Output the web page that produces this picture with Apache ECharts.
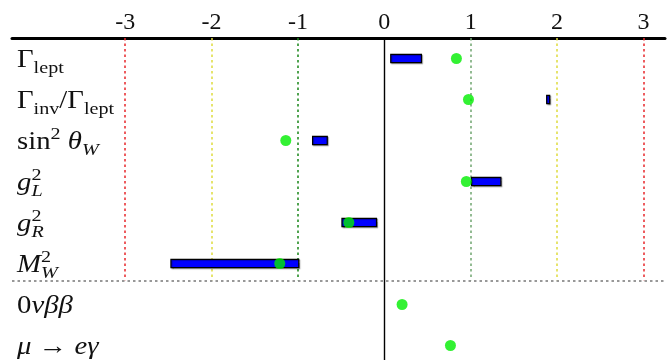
<!DOCTYPE html>
<html>
<head>
<meta charset="utf-8">
<script src="https://cdn.jsdelivr.net/npm/echarts@6/dist/echarts.min.js"></script>
<style>
  html, body { margin: 0; padding: 0; background: #fff; }
  #chart { width: 670px; height: 360px; }
</style>
</head>
<body>
<div id="chart"></div>
<script>
// Row labels in a small TeX-like notation: _{..} subscript, ^{..} superscript
const categories = ['Γ_{lept}', 'Γ_{inv}/Γ_{lept}', 'sin^{2} θ_{W}', 'g_{L}^{2}', 'g_{R}^{2}', 'M_{W}^{2}', '0νββ', 'μ → eγ'];
// Interval bars (low / high end), null where a row has no bar
const barLow  = [0.075, 1.88, -0.83, 1.01, -0.49, -2.47, null, null];
const barHigh = [0.43, 1.915, -0.66, 1.35, -0.09, -0.99, null, null];
// Point estimate for each row
const pointValues = [0.835, 0.975, -1.14, 0.95, -0.41, -1.21, 0.206, 0.766];
// Axis tick labels and vertical guide positions
const tickValues = [-3, -2, -1, 0, 1, 2, 3];
const guideValues = [-3, -2, -1, 1, 2, 3];

// ---- styling ----
const X_MIN = -4.31, X_MAX = 3.25;
const GRID_TOP = 38, ROW_PX = 41, CHART_H = 360;
const Y_MIN = -0.5, Y_MAX = Y_MIN + (CHART_H - GRID_TOP) / ROW_PX;
const SEPARATOR = 5.41;            // dotted rule between the two groups of rows
const FONT = '"Liberation Serif", "DejaVu Serif", serif';
const MAIN = 25, SCRIPT = 17.5, LABEL_STRETCH = 1.15;
const guideColors = { '-3': '#e8262a', '-2': '#dedb3c', '-1': '#168516', '1': '#6fa56f', '2': '#dedb3c', '3': '#e8262a' };

// ---- text measurement for the math-style labels ----
const mctx = document.createElement('canvas').getContext('2d');
function fontStr(size, italic) { return (italic ? 'italic ' : '') + size + 'px ' + FONT; }
function textWidth(t, size, italic) { mctx.font = fontStr(size, italic); return mctx.measureText(t).width; }
function midToBase(size) {
  mctx.font = fontStr(size, false);
  mctx.textBaseline = 'alphabetic';
  const a = mctx.measureText('H').actualBoundingBoxAscent;
  mctx.textBaseline = 'middle';
  const b = mctx.measureText('H').actualBoundingBoxAscent;
  mctx.textBaseline = 'alphabetic';
  return a - b;
}
function parseLabel(src) {
  const segs = []; let i = 0, buf = '';
  while (i < src.length) {
    const c = src[i];
    if ((c === '_' || c === '^') && src[i + 1] === '{') {
      if (buf) { segs.push({ role: 'main', text: buf }); buf = ''; }
      const end = src.indexOf('}', i);
      segs.push({ role: c === '_' ? 'sub' : 'sup', text: src.slice(i + 2, end) });
      i = end + 1;
    } else { buf += c; i++; }
  }
  if (buf) segs.push({ role: 'main', text: buf });
  return segs;
}
function runs(text) {
  return (text.match(/[A-Za-z]{2,}|[A-Za-z\u03b1-\u03c9]|[^A-Za-z\u03b1-\u03c9]+/g) || [])
    .map(t => ({ text: t, italic: t.length === 1 && /[A-Za-z\u03b1-\u03c9]/.test(t) }));
}
function layoutLabel(src) {
  const pieces = []; let x = 0, prev = null;
  parseLabel(src).forEach(seg => {
    const size = seg.role === 'main' ? MAIN : SCRIPT;
    let start = x;
    if (seg.role !== 'main' && prev && prev.role !== 'main' && prev.role !== seg.role) start = prev.start;
    let cx = start;
    runs(seg.text).forEach(r => {
      pieces.push({ text: r.text, italic: r.italic, size: size, role: seg.role, dx: cx });
      cx += textWidth(r.text, size, r.italic);
    });
    x = Math.max(x, cx);
    prev = { role: seg.role, start: start };
  });
  return pieces;
}
const labelLayouts = categories.map(layoutLabel);
const BASE_DROP = 8.5;
const roleShift = { main: 0, sub: 0.22 * MAIN, sup: -0.4 * MAIN };
const baseOffset = { main: midToBase(MAIN), sub: midToBase(SCRIPT), sup: midToBase(SCRIPT) };

// ---- series data built from the arrays ----
const labelData = categories.map((c, i) => [X_MIN, i]);
const barData = barLow.map((lo, i) => [lo, barHigh[i], i]).filter(d => d[0] !== null);
const pointData = pointValues.map((v, i) => [v, i]);

const guideLines = guideValues.map(v => [
  { coord: [v, Y_MIN], lineStyle: { color: guideColors[String(v)], width: 1.5, type: [2.5, 3] } },
  { coord: [v, SEPARATOR] }
]);
const zeroLine = [{ coord: [0, Y_MIN], lineStyle: { color: '#000', width: 1.4, type: 'solid' } }, { coord: [0, Y_MAX] }];
const sepLine = [{ coord: [X_MIN, SEPARATOR], lineStyle: { color: '#777', width: 1.6, type: [2.5, 3] } }, { coord: [X_MAX, SEPARATOR] }];

const chart = echarts.init(document.getElementById('chart'), null, { renderer: 'canvas' });
chart.setOption({
  animation: false,
  backgroundColor: '#fff',
  grid: { left: 12, top: GRID_TOP, width: 653, height: CHART_H - GRID_TOP, containLabel: false },
  xAxis: {
    type: 'value', position: 'top', min: X_MIN, max: X_MAX,
    axisLine: { show: true, onZero: false, lineStyle: { color: '#000', width: 3 } },
    axisTick: { show: false },
    splitLine: { show: false },
    axisLabel: {
      customValues: tickValues,
      formatter: v => (v < 0 ? '-' + Math.abs(v) : String(v)),
      fontFamily: FONT, fontSize: 24, color: '#111', margin: 3
    }
  },
  yAxis: { type: 'value', inverse: true, min: Y_MIN, max: Y_MAX, show: false },
  series: [
    {
      type: 'line', data: [], z: 1,
      markLine: {
        silent: true, symbol: ['none', 'none'], label: { show: false }, z: 1,
        data: guideLines.concat([zeroLine, sepLine])
      }
    },
    {
      type: 'custom', z: 3, clip: false,
      data: barData,
      encode: { x: [0, 1], y: 2 },
      renderItem: function (params, api) {
        const row = api.value(2);
        const a = api.coord([api.value(0), row]);
        const b = api.coord([api.value(1), row]);
        const h = api.size([0, 1])[1] * 0.2;
        return {
          type: 'rect',
          shape: { x: a[0], y: a[1] - h / 2, width: b[0] - a[0], height: h },
          style: { fill: '#0000ff', stroke: '#000', lineWidth: 1.2,
                   shadowColor: 'rgba(0,0,0,0.3)', shadowOffsetX: 1, shadowOffsetY: 1, shadowBlur: 1 }
        };
      }
    },
    {
      type: 'scatter', z: 4,
      data: pointData,
      symbol: 'circle', symbolSize: 11,
      itemStyle: { color: '#00ee00' }
    },
    {
      type: 'custom', z: 5, clip: false,
      data: labelData,
      encode: { x: 0, y: 1 },
      renderItem: function (params, api) {
        const p = api.coord([api.value(0), api.value(1)]);
        const pieces = labelLayouts[params.dataIndex];
        return {
          type: 'group',
          x: p[0] + 5, y: p[1] + BASE_DROP, scaleX: LABEL_STRETCH,
          children: pieces.map(pc => ({
            type: 'text',
            style: {
              text: pc.text,
              x: pc.dx,
              y: roleShift[pc.role] - baseOffset[pc.role],
              font: fontStr(pc.size, pc.italic),
              fill: '#111', align: 'left', verticalAlign: 'middle'
            }
          }))
        };
      }
    }
  ]
});
</script>
</body>
</html>
